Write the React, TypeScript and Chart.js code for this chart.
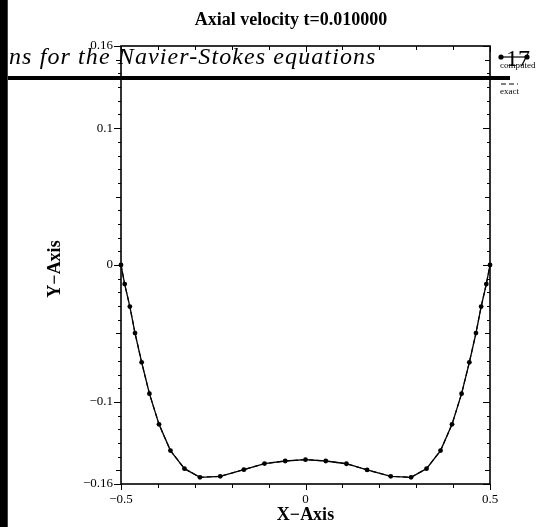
import React, { useEffect, useRef } from "react";
import { Chart, registerables } from "chart.js";

Chart.register(...registerables);

const xValues = [
  -0.5, -0.49, -0.476, -0.462, -0.444, -0.423, -0.397, -0.366, -0.328, -0.286, -0.231, -0.167, -0.111, -0.055, 0,
  0.055, 0.111, 0.167, 0.231, 0.286, 0.328, 0.366, 0.397, 0.423, 0.444, 0.462, 0.476, 0.49, 0.5,
];
const computedValues = [
  0, -0.0139, -0.0304, -0.0497, -0.0711, -0.094, -0.1164, -0.1356, -0.1488, -0.1551, -0.1544, -0.1495, -0.1451, -0.1432, -0.1422,
  -0.1432, -0.1452, -0.1497, -0.1544, -0.1551, -0.1488, -0.1356, -0.1164, -0.094, -0.0711, -0.0497, -0.0304, -0.0139, 0,
];
const exactValues = [
  0, -0.0139, -0.0304, -0.0497, -0.0711, -0.094, -0.1164, -0.1356, -0.1488, -0.1551, -0.1544, -0.1495, -0.1451, -0.1432, -0.1422,
  -0.1432, -0.1452, -0.1497, -0.1544, -0.1551, -0.1488, -0.1356, -0.1164, -0.094, -0.0711, -0.0497, -0.0304, -0.0139, 0,
];

const xTickValues = [-0.5, 0, 0.5];
const xTickLabels = ["\u22120.5", "0", "0.5"];
const yTickValues = [-0.16, -0.1, 0, 0.1, 0.16];
const yTickLabels = ["\u22120.16", "\u22120.1", "0", "0.1", "0.16"];

const titleText = "Axial velocity t=0.010000";
const xTitle = "X\u2212Axis";
const yTitle = "Y\u2212Axis";
const headerText = "ns for the Navier-Stokes equations";
const pageNumber = "17";
const legendLabels = ["computed", "exact"];

const SERIF = '"Liberation Serif", "DejaVu Serif", serif';

const decorPlugin = {
  id: "decor",
  afterDraw(chart: any) {
    const { ctx, chartArea, scales } = chart;
    const { left, right, top, bottom } = chartArea;
    const x = scales.x;
    const y = scales.y;
    ctx.save();
    ctx.strokeStyle = "#000";
    ctx.fillStyle = "#000";

    // frame
    ctx.lineWidth = 1.6;
    ctx.strokeRect(left, top, right - left, bottom - top);

    // y ticks (minor every 0.01)
    ctx.lineWidth = 1;
    for (let i = -16; i <= 16; i++) {
      const v = i / 100;
      const py = Math.round(y.getPixelForValue(v)) + 0.5;
      let len = 3;
      if (i % 5 === 0) len = 5;
      if (i % 10 === 0 || Math.abs(i) === 16) len = 7;
      ctx.beginPath();
      ctx.moveTo(left - len, py);
      ctx.lineTo(left, py);
      ctx.moveTo(right - len, py);
      ctx.lineTo(right, py);
      ctx.stroke();
    }
    // x ticks (every 0.1)
    for (let i = -5; i <= 5; i++) {
      const v = i / 10;
      const px = Math.round(x.getPixelForValue(v)) + 0.5;
      const len = i === 0 || Math.abs(i) === 5 ? 6 : 4;
      ctx.beginPath();
      ctx.moveTo(px, bottom);
      ctx.lineTo(px, bottom + len);
      ctx.moveTo(px, top);
      ctx.lineTo(px, top + len);
      ctx.stroke();
    }

    // tick labels
    ctx.font = `13px ${SERIF}`;
    ctx.textAlign = "right";
    ctx.textBaseline = "middle";
    yTickValues.forEach((v, i) => {
      ctx.fillText(yTickLabels[i], left - 8, y.getPixelForValue(v));
    });
    ctx.textAlign = "center";
    ctx.textBaseline = "top";
    xTickValues.forEach((v, i) => {
      ctx.fillText(xTickLabels[i], x.getPixelForValue(v), bottom + 9);
    });

    // titles
    ctx.font = `bold 18px ${SERIF}`;
    ctx.textBaseline = "alphabetic";
    ctx.textAlign = "center";
    ctx.fillText(titleText, 291, 25);
    ctx.fillText(xTitle, (left + right) / 2, 520);
    ctx.save();
    ctx.translate(60, (top + bottom) / 2 + 4);
    ctx.rotate(-Math.PI / 2);
    ctx.fillText(yTitle, 0, 0);
    ctx.restore();

    // legend
    ctx.lineWidth = 1.2;
    ctx.beginPath();
    ctx.moveTo(501, 57);
    ctx.lineTo(527, 57);
    ctx.stroke();
    [501, 527].forEach((px) => {
      ctx.beginPath();
      ctx.arc(px, 57, 2.6, 0, Math.PI * 2);
      ctx.fill();
    });
    ctx.setLineDash([5, 3]);
    ctx.beginPath();
    ctx.moveTo(501, 84);
    ctx.lineTo(518, 84);
    ctx.stroke();
    ctx.setLineDash([]);
    ctx.font = `9px ${SERIF}`;
    ctx.textAlign = "left";
    ctx.fillText(legendLabels[0], 500, 68);
    ctx.fillText(legendLabels[1], 500, 94);

    // page overlay
    ctx.font = `italic 24px ${SERIF}`;
    (ctx as any).letterSpacing = "1.1px";
    ctx.fillText(headerText, 9, 64);
    (ctx as any).letterSpacing = "0px";
    ctx.font = `24px ${SERIF}`;
    ctx.fillText(pageNumber, 506, 66);
    ctx.fillRect(8, 76, 502, 4);
    ctx.fillRect(0, 0, 7, chart.height);
    ctx.fillStyle = "#e00000";
    ctx.fillRect(7, 0, 1, chart.height);

    ctx.restore();
  },
};

export default function App() {
  const ref = useRef<HTMLCanvasElement | null>(null);
  useEffect(() => {
    if (!ref.current) return;
    const chart = new Chart(ref.current, {
      type: "scatter",
      data: {
        datasets: [
          {
            label: legendLabels[1],
            data: xValues.map((xv, i) => ({ x: xv, y: exactValues[i] })),
            showLine: true,
            borderColor: "#000",
            borderWidth: 1.2,
            borderDash: [5, 3],
            pointRadius: 0,
            clip: false,
          },
          {
            label: legendLabels[0],
            data: xValues.map((xv, i) => ({ x: xv, y: computedValues[i] })),
            showLine: true,
            borderColor: "#000",
            borderWidth: 1.3,
            backgroundColor: "#000",
            pointBackgroundColor: "#000",
            pointBorderColor: "#000",
            pointRadius: 2.4,
            pointBorderWidth: 0,
            clip: false,
          },
        ] as any,
      },
      options: {
        animation: false,
        responsive: false,
        maintainAspectRatio: false,
        layout: { padding: { left: 121, right: 59, top: 46, bottom: 43 } },
        plugins: {
          legend: { display: false },
          title: { display: false },
          tooltip: { enabled: false },
        },
        scales: {
          x: { type: "linear", min: -0.5, max: 0.5, display: false },
          y: { type: "linear", min: -0.16, max: 0.16, display: false },
        },
      },
      plugins: [decorPlugin],
    });
    return () => chart.destroy();
  }, []);
  return (
    <div style={{ position: "absolute", left: 0, top: 0, width: 549, height: 527, background: "#fff" }}>
      <canvas ref={ref} width={549} height={527} style={{ width: 549, height: 527, display: "block" }} />
    </div>
  );
}
